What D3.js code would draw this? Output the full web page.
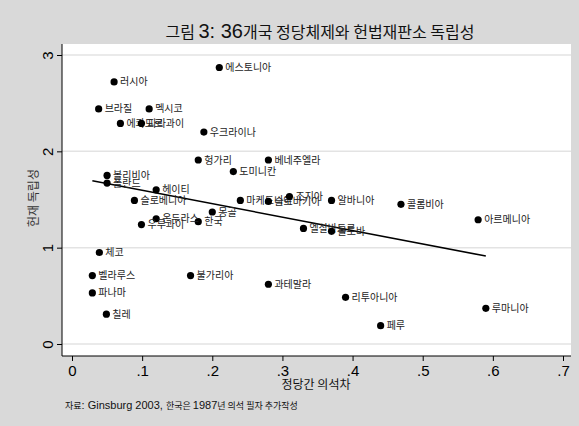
<!DOCTYPE html>
<html>
<head>
<meta charset="utf-8">
<script src="https://cdn.jsdelivr.net/npm/d3@7"></script>
<style>
	body { margin: 0; background: #d9d9d9; }
	svg { display: block; }
</style>
</head>
<body>
<div id="chart"></div>
<script>
// 정당간 의석차 (x) / 헌재 독립성 (y)
var countries = ["에스토니아", "러시아", "브라질", "멕시코", "에콰도르", "파라과이", "우크라이나",
	"헝가리", "베네주엘라", "도미니칸", "볼리비아", "폴란드", "헤이티", "슬로베니아", "마케도니아",
	"슬로바키아", "조지아", "알바니아", "콜롬비아", "아르메니아", "몽골", "한국", "온두라스", "우루과이",
	"엘살바도르", "몰도바", "체코", "벨라루스", "불가리아", "파나마", "칠레", "과테말라", "리투아니아",
	"루마니아", "페루"];
var seatGap = [0.210, 0.060, 0.038, 0.110, 0.069, 0.099, 0.188,
	0.180, 0.280, 0.230, 0.050, 0.050, 0.120, 0.089, 0.240,
	0.280, 0.310, 0.370, 0.469, 0.579, 0.200, 0.180, 0.120, 0.099,
	0.330, 0.370, 0.039, 0.029, 0.169, 0.029, 0.049, 0.280, 0.390,
	0.590, 0.440];
var independence = [2.87, 2.72, 2.44, 2.44, 2.29, 2.29, 2.20,
	1.91, 1.91, 1.79, 1.75, 1.67, 1.60, 1.49, 1.49,
	1.48, 1.53, 1.49, 1.45, 1.29, 1.37, 1.27, 1.30, 1.24,
	1.20, 1.17, 0.95, 0.71, 0.71, 0.53, 0.31, 0.62, 0.485,
	0.37, 0.19];
var xTicks = [0, 0.1, 0.2, 0.3, 0.4, 0.5, 0.6, 0.7];
var xTickLabels = ["0", ".1", ".2", ".3", ".4", ".5", ".6", ".7"];
var yTicks = [0, 1, 2, 3];

var W = 579, H = 426,
	plot = {left: 62, right: 571, top: 44, bottom: 356};

var data = countries.map(function(c, i) {
	return {name: c, x: seatGap[i], y: independence[i]};
});

var svg = d3.select("#chart").append("svg")
	.attr("width", W).attr("height", H);

svg.append("rect").attr("width", W).attr("height", H).style("fill", "#d9d9d9");
svg.append("rect")
	.attr("x", plot.left).attr("y", plot.top)
	.attr("width", plot.right - plot.left).attr("height", plot.bottom - plot.top)
	.style("fill", "#fff");

var x = d3.scaleLinear().domain([0, 0.7]).range([72, 563]);
var y = d3.scaleLinear().domain([0, 3]).range([344, 55]);

// gridlines
svg.selectAll(".grid").data(yTicks).enter().append("line")
	.attr("class", "grid")
	.attr("x1", plot.left).attr("x2", plot.right)
	.attr("y1", function(d) { return y(d); }).attr("y2", function(d) { return y(d); })
	.style("stroke", "#e3e3e3").style("stroke-width", 1.5);

// axes
var xAxis = d3.axisBottom(x).tickValues(xTicks)
	.tickFormat(function(d, i) { return xTickLabels[i]; })
	.tickSize(5).tickPadding(4);
var yAxis = d3.axisLeft(y).tickValues(yTicks).tickFormat(d3.format("d")).tickSize(5).tickPadding(5);

var gx = svg.append("g").attr("transform", "translate(0," + plot.bottom + ")").call(xAxis);
gx.select(".domain").attr("d", "M" + plot.left + ",0H" + plot.right);
gx.selectAll("text").style("font", "15px 'Liberation Sans', Arial, sans-serif").style("fill", "#000");

var gy = svg.append("g").attr("transform", "translate(" + plot.left + ",0)").call(yAxis);
gy.select(".domain").attr("d", "M0," + plot.top + "V" + plot.bottom);
gy.selectAll("text")
	.style("font", "15px 'Liberation Sans', Arial, sans-serif").style("fill", "#000")
	.attr("text-anchor", "middle").attr("dy", null)
	.attr("transform", "translate(-14,0) rotate(-90)")
	.attr("x", 0).attr("y", 5);
gx.selectAll("line, path").style("stroke", "#000");
gy.selectAll("line, path").style("stroke", "#000");

// fitted line (OLS)
var mx = d3.mean(data, function(d) { return d.x; }),
	my = d3.mean(data, function(d) { return d.y; });
var slope = d3.sum(data, function(d) { return (d.x - mx) * (d.y - my); }) /
	d3.sum(data, function(d) { return (d.x - mx) * (d.x - mx); });
var icpt = my - slope * mx;
var xr = d3.extent(data, function(d) { return d.x; });
svg.append("line")
	.attr("x1", x(xr[0])).attr("y1", y(icpt + slope * xr[0]))
	.attr("x2", x(xr[1])).attr("y2", y(icpt + slope * xr[1]))
	.style("stroke", "#000").style("stroke-width", 1.5);

// points and labels
var pts = svg.selectAll(".pt").data(data).enter().append("g")
	.attr("class", "pt")
	.attr("transform", function(d) { return "translate(" + x(d.x) + "," + y(d.y) + ")"; });
pts.append("circle").attr("r", 3.6).style("fill", "#000");
pts.append("text")
	.attr("x", 6).attr("dy", "0.35em")
	.style("font", "10px 'Noto Sans CJK KR', sans-serif").style("fill", "#222")
	.text(function(d) { return d.name; });

// titles
var title = svg.append("text").attr("x", 320).attr("y", 38).attr("text-anchor", "middle")
	.style("font-family", "'Noto Sans CJK KR', sans-serif").style("fill", "#111");
title.append("tspan").style("font-size", "16px").text("그림 ");
title.append("tspan").style("font-size", "20px").style("font-family", "'Liberation Sans', Arial, sans-serif").text("3: 36");
title.append("tspan").style("font-size", "16px").text("개국 정당체제와 헌법재판소 독립성");

svg.append("text").attr("x", 316).attr("y", 389).attr("text-anchor", "middle")
	.style("font", "12px 'Noto Sans CJK KR', sans-serif").style("fill", "#111")
	.text("정당간 의석차");

svg.append("g").style("opacity", 0.99)
	.append("text").attr("transform", "translate(38,198) rotate(-90)").attr("text-anchor", "middle")
	.style("font", "12px 'Noto Sans CJK KR', sans-serif").style("fill", "#333")
	.text("헌재 독립성");

var note = svg.append("text").attr("x", 65).attr("y", 409)
	.style("font-family", "'Noto Sans CJK KR', sans-serif").style("fill", "#111");
note.append("tspan").style("font-size", "9px").text("자료");
note.append("tspan").style("font-size", "11px").style("font-family", "'Liberation Sans', Arial, sans-serif").text(": Ginsburg 2003, ");
note.append("tspan").style("font-size", "9px").text("한국은 ");
note.append("tspan").style("font-size", "11px").style("font-family", "'Liberation Sans', Arial, sans-serif").text("1987");
note.append("tspan").style("font-size", "9px").text("년 의석 필자 추가작성");
</script>
</body>
</html>
